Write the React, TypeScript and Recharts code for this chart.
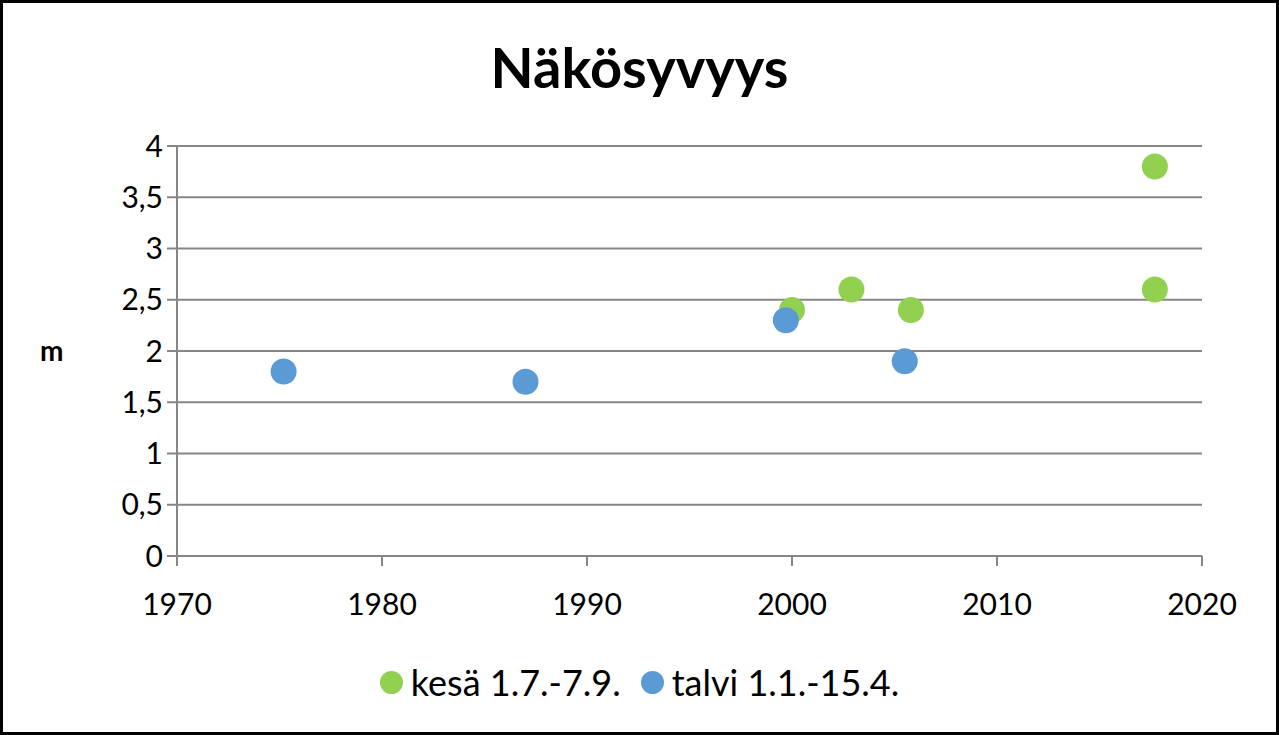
import React from "react";
import {
  ScatterChart, Scatter, XAxis, YAxis, CartesianGrid, Legend,
} from "recharts";

// kesä 1.7.-7.9.
const summerYears = [2000, 2002.9, 2005.8, 2017.7, 2017.7];
const summerDepth = [2.4, 2.6, 2.4, 3.8, 2.6];
// talvi 1.1.-15.4.
const winterYears = [1975.2, 1987, 1999.7, 2005.5];
const winterDepth = [1.8, 1.7, 2.3, 1.9];

const yearTicks = [1970, 1980, 1990, 2000, 2010, 2020];
const depthTicks = [0, 0.5, 1, 1.5, 2, 2.5, 3, 3.5, 4];

const GREEN = "#92D050";
const BLUE = "#5B9BD5";
const AXIS = "#868686";
const FONT = "Lato, 'Open Sans', sans-serif";

const summer = summerYears.map((x, i) => ({ x, y: summerDepth[i] }));
const winter = winterYears.map((x, i) => ({ x, y: winterDepth[i] }));

const legendItems = [
  { label: "kesä 1.7.-7.9.", color: GREEN },
  { label: "talvi 1.1.-15.4.", color: BLUE },
];

function dot(color: string) {
  return (props: any) => (
    <circle cx={props.cx} cy={props.cy} r={13} fill={color} />
  );
}

function LegendContent() {
  return (
    <div style={{ display: "flex", justifyContent: "center", alignItems: "center", fontFamily: FONT, fontSize: 36, color: "#000" }}>
      {legendItems.map((it) => (
        <div key={it.label} style={{ display: "flex", alignItems: "center", margin: "0 10px" }}>
          <span style={{ width: 23, height: 23, borderRadius: 12, background: it.color, display: "inline-block", marginRight: 8 }} />
          {it.label}
        </div>
      ))}
    </div>
  );
}

export default function App() {
  return (
    <div
      style={{
        position: "fixed", left: 0, top: 0, width: 1279, height: 735,
        boxSizing: "border-box", border: "3px solid #000", background: "#fff",
      }}
    >
      <div
        style={{
          position: "absolute", left: -3, top: 30, width: 1279, textAlign: "center",
          fontFamily: FONT, fontWeight: 700, fontSize: 56, color: "#000",
        }}
      >
        Näkösyvyys
      </div>
      <div style={{ position: "absolute", left: -3, top: -3 }}>
        <ScatterChart width={1279} height={735} margin={{ top: 146, right: 77, bottom: 0, left: 0 }}>
          <CartesianGrid horizontal vertical={false} stroke={AXIS} strokeWidth={2} />
          <XAxis
            type="number"
            dataKey="x"
            domain={[1970, 2020]}
            ticks={yearTicks}
            interval={0}
            height={179}
            tickSize={10}
            tickMargin={28}
            axisLine={{ stroke: AXIS, strokeWidth: 2 }}
            tickLine={{ stroke: AXIS, strokeWidth: 2 }}
            tick={{ fill: "#000", fontSize: 30, fontFamily: FONT }}
          />
          <YAxis
            type="number"
            dataKey="y"
            domain={[0, 4]}
            ticks={depthTicks}
            interval={0}
            width={177}
            tickSize={10}
            tickMargin={4}
            axisLine={{ stroke: AXIS, strokeWidth: 2 }}
            tickLine={{ stroke: AXIS, strokeWidth: 2 }}
            tick={{ fill: "#000", fontSize: 30, fontFamily: FONT }}
            tickFormatter={(v: number) => String(v).replace(".", ",")}
            label={{
              value: "m", position: "insideLeft", offset: 40,
              style: { fill: "#000", fontSize: 28, fontWeight: 700, fontFamily: FONT, textAnchor: "start" },
            }}
          />
          <Legend
            layout="horizontal"
            verticalAlign="middle"
            align="center"
            wrapperStyle={{ top: 660, left: 0, width: 1279 }}
            content={<LegendContent />}
          />
          <Scatter name="kesä 1.7.-7.9." data={summer} fill={GREEN} shape={dot(GREEN)} isAnimationActive={false} />
          <Scatter name="talvi 1.1.-15.4." data={winter} fill={BLUE} shape={dot(BLUE)} isAnimationActive={false} />
        </ScatterChart>
      </div>
    </div>
  );
}
